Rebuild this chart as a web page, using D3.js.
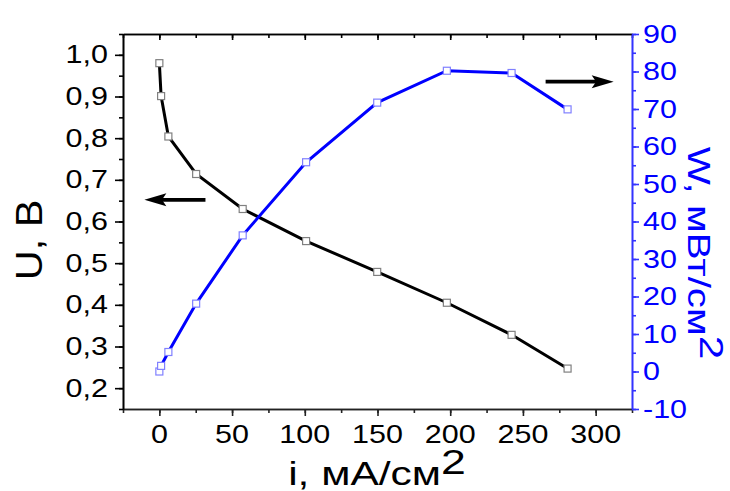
<!DOCTYPE html>
<html><head><meta charset="utf-8">
<script src="https://cdn.jsdelivr.net/npm/d3@7"></script>
<style>body{margin:0;background:#fff} svg{display:block}</style>
</head><body>
<svg id="c" width="730" height="491"></svg>
<script>
// ---- data ----
const current = [0, 1.2, 6.2, 25.3, 57.3, 100.9, 149.8, 197.7, 242.2, 280.7];
const voltage = [0.980, 0.901, 0.804, 0.714, 0.630, 0.553, 0.479, 0.405, 0.328, 0.247];
const power   = [0, 1.5, 5.2, 18.1, 36.3, 55.8, 71.7, 80.2, 79.6, 69.9];
const xTicks = [0, 50, 100, 150, 200, 250, 300];
const uTicks = [0.2, 0.3, 0.4, 0.5, 0.6, 0.7, 0.8, 0.9, 1.0];
const wTicks = [-10, 0, 10, 20, 30, 40, 50, 60, 70, 80, 90];
const xLabel = "i, мА/см";
const uLabel = "U, В";
const wLabel = "W, мВт/см";
const supLabel = "2";
// arrows (data coordinates)
const leftArrow = {x0: 31.7, x1: -10.3, u: 0.652};
const rightArrow = {x0: 265.6, x1: 312.4, w: 77.3};

const svg = d3.select("#c");
const L = 123, R = 632, T = 34, B = 409;
const x = d3.scaleLinear().domain([-25, 325]).range([L, R]);
const yU = d3.scaleLinear().domain([0.15, 1.05]).range([B, T]);
const yW = d3.scaleLinear().domain([-10, 90]).range([B, T]);
const BLUE = "#0000ff";
const FONT = "'Liberation Sans', Arial, sans-serif";

function txt(g, s, px, py, opts) {
  const o = Object.assign({size: 25, sx: 1.22, rot: 0, anchor: "middle", fill: "#000", base: "auto"}, opts || {});
  return g.append("text")
    .attr("transform", `translate(${px},${py}) rotate(${o.rot}) scale(${o.sx},1)`)
    .attr("text-anchor", o.anchor)
    .attr("dominant-baseline", o.base)
    .attr("font-family", FONT)
    .attr("font-size", o.size)
    .attr("fill", o.fill)
    .text(s);
}

function styleAxis(g, color) {
  g.selectAll("path.domain").attr("stroke", color).attr("stroke-width", 1.6);
  g.selectAll(".tick line").attr("stroke", color).attr("stroke-width", 1.6);
  g.selectAll(".tick text").remove();
}
const minor = (lo, hi, step) => d3.range(lo, hi + step / 2, step).map(v => +v.toFixed(4));

// bottom axis
styleAxis(svg.append("g").attr("transform", `translate(0,${B})`)
  .call(d3.axisBottom(x).tickValues(minor(-25, 325, 25)).tickSize(4).tickSizeOuter(0)), "#222");
styleAxis(svg.append("g").attr("transform", `translate(0,${B})`)
  .call(d3.axisBottom(x).tickValues(xTicks).tickSize(7).tickSizeOuter(0)), "#222");
// top axis (inward ticks)
styleAxis(svg.append("g").attr("transform", `translate(0,${T})`)
  .call(d3.axisBottom(x).tickValues(minor(-25, 325, 25)).tickSize(4).tickSizeOuter(0)), "#000");
styleAxis(svg.append("g").attr("transform", `translate(0,${T})`)
  .call(d3.axisBottom(x).tickValues(xTicks).tickSize(6).tickSizeOuter(0)), "#000");
// left axis
styleAxis(svg.append("g").attr("transform", `translate(${L},0)`)
  .call(d3.axisLeft(yU).tickValues(minor(0.15, 1.05, 0.05)).tickSize(4).tickSizeOuter(0)), "#000");
styleAxis(svg.append("g").attr("transform", `translate(${L},0)`)
  .call(d3.axisLeft(yU).tickValues(uTicks).tickSize(8).tickSizeOuter(0)), "#000");
// right axis
styleAxis(svg.append("g").attr("transform", `translate(${R},0)`)
  .call(d3.axisRight(yW).tickValues(minor(-10, 90, 5)).tickSize(4).tickSizeOuter(0)), "#3333ff");
styleAxis(svg.append("g").attr("transform", `translate(${R},0)`)
  .call(d3.axisRight(yW).tickValues(wTicks).tickSize(7).tickSizeOuter(0)), "#3333ff");

// tick labels
const lab = svg.append("g");
xTicks.forEach(v => txt(lab, String(v), x(v), 443, {anchor: "middle"}));
uTicks.forEach(v => txt(lab, v.toFixed(1).replace(".", ","), 108, yU(v), {anchor: "end", base: "central"}));
wTicks.forEach(v => txt(lab, String(v), 643, yW(v), {anchor: "start", base: "central", fill: BLUE}));

// axis titles
function titleWithSup(g, main, sup, px, py, rot, size, sx, fill, raise) {
  const t = g.append("text")
    .attr("transform", `translate(${px},${py}) rotate(${rot}) scale(${sx},1)`)
    .attr("text-anchor", "middle")
    .attr("font-family", FONT).attr("font-size", size).attr("fill", fill);
  t.append("tspan").text(main);
  t.append("tspan").attr("dy", -raise).attr("font-size", size * 1.05).text(sup);
}
titleWithSup(svg, xLabel, supLabel, 377, 485, 0, 34, 1.25, "#000", 11);
titleWithSup(svg, wLabel, supLabel, 688, 253, 90, 31, 1.3, BLUE, 12);
txt(svg, uLabel, 42, 240, {size: 37, sx: 1.12, rot: -90, anchor: "middle"});

// series
const idx = d3.range(current.length);
const lineU = d3.line().x(i => x(current[i])).y(i => yU(voltage[i]));
const lineW = d3.line().x(i => x(current[i])).y(i => yW(power[i]));
svg.append("path").attr("d", lineU(idx)).attr("fill", "none").attr("stroke", "#000").attr("stroke-width", 3);
svg.append("g").selectAll("rect").data(idx).join("rect")
  .attr("x", i => x(current[i]) - 3.5).attr("y", i => yU(voltage[i]) - 3.5)
  .attr("width", 7).attr("height", 7).attr("fill", "#fff").attr("stroke", "#808080").attr("stroke-width", 1.2);
svg.append("path").attr("d", lineW(idx)).attr("fill", "none").attr("stroke", BLUE).attr("stroke-width", 3);
svg.append("g").selectAll("rect").data(idx).join("rect")
  .attr("x", i => x(current[i]) - 3.5).attr("y", i => yW(power[i]) - 3.5)
  .attr("width", 7).attr("height", 7).attr("fill", "#fff").attr("stroke", "#8080ff").attr("stroke-width", 1.2);

// arrows
function arrow(x0, x1, y, headLen, headHalf, w) {
  const dir = Math.sign(x1 - x0);
  svg.append("line").attr("x1", x0).attr("x2", x1 - dir * headLen * 0.8).attr("y1", y).attr("y2", y)
    .attr("stroke", "#000").attr("stroke-width", w);
  svg.append("path")
    .attr("d", `M${x1},${y} L${x1 - dir * headLen},${y - headHalf} L${x1 - dir * headLen * 0.8},${y} L${x1 - dir * headLen},${y + headHalf} Z`)
    .attr("fill", "#000");
}
arrow(x(leftArrow.x0), x(leftArrow.x1), yU(leftArrow.u), 22, 6.5, 3.8);
arrow(x(rightArrow.x0), x(rightArrow.x1), yW(rightArrow.w), 22, 6.5, 3.8);
</script>
</body></html>
